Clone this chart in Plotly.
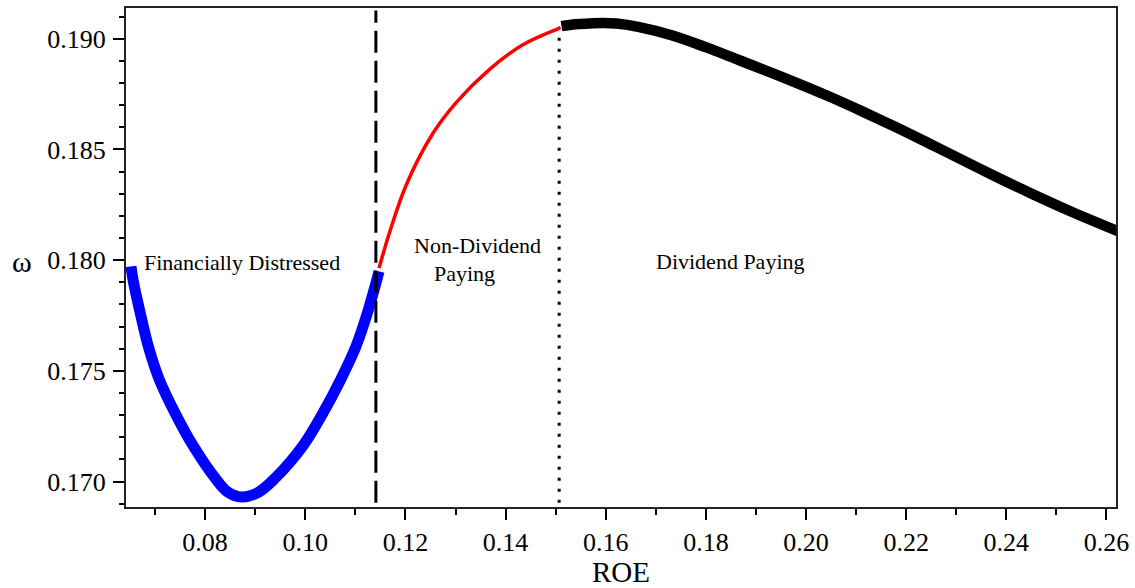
import plotly.graph_objects as go

# ---- data ----
blue_x = [0.06520, 0.06566, 0.06709, 0.06869, 0.07088, 0.07397, 0.07757, 0.08205, 0.08455,
          0.08728, 0.09053, 0.09392, 0.09957, 0.10356, 0.10703, 0.11008, 0.11233, 0.11421, 0.11473]
blue_y = [0.17972, 0.17905, 0.17757, 0.17608, 0.17459, 0.17311, 0.17163, 0.17014, 0.16952,
          0.16930, 0.16950, 0.17014, 0.17163, 0.17311, 0.17459, 0.17608, 0.17756, 0.17905, 0.17949]

red_x = [0.11473, 0.11686, 0.12020, 0.12550, 0.13017, 0.13681, 0.14345, 0.15044, 0.15098]
red_y = [0.17964, 0.18127, 0.18342, 0.18573, 0.18713, 0.18862, 0.18973, 0.19045, 0.19050]

black_x = [0.15117, 0.15397, 0.15676, 0.15935, 0.16214, 0.16673, 0.17332, 0.18010, 0.18668,
           0.19327, 0.20005, 0.20463, 0.21122, 0.21800, 0.22458, 0.23117, 0.23795, 0.24453,
           0.25291, 0.26250]
black_y = [0.19057, 0.19066, 0.19069, 0.19071, 0.19069, 0.19053, 0.19015, 0.18961, 0.18903,
           0.18845, 0.18783, 0.18739, 0.18672, 0.18600, 0.18527, 0.18453, 0.18377, 0.18306,
           0.18220, 0.18129]

distress_boundary = 0.1141
dividend_boundary = 0.1507
dashed_y = [0.16904, 0.19128]
dotted_y = [0.16904, 0.19040]

x_range = [0.0642, 0.2619]
y_range = [0.16885, 0.19139]

region_labels = ["Financially Distressed", "Non-Dividend", "Paying", "Dividend Paying"]
x_title = "ROE"
y_title = "ω"

FONT = "Liberation Serif"

fig = go.Figure()

fig.add_trace(go.Scatter(x=[dividend_boundary, dividend_boundary], y=dotted_y, mode="lines",
                         line=dict(color="black", width=3, dash="3px,8px"),
                         showlegend=False, hoverinfo="skip"))
fig.add_trace(go.Scatter(x=blue_x, y=blue_y, mode="lines",
                         line=dict(color="#0000ff", width=11, shape="spline", smoothing=1),
                         showlegend=False))
fig.add_trace(go.Scatter(x=red_x, y=red_y, mode="lines",
                         line=dict(color="#ff0000", width=3.5, shape="spline", smoothing=1),
                         showlegend=False))
fig.add_trace(go.Scatter(x=black_x, y=black_y, mode="lines",
                         line=dict(color="black", width=10.5, shape="spline", smoothing=1),
                         showlegend=False))
fig.add_trace(go.Scatter(x=[distress_boundary, distress_boundary], y=dashed_y, mode="lines",
                         line=dict(color="black", width=3, dash="22px,8px"),
                         showlegend=False, hoverinfo="skip"))

fig.update_xaxes(range=x_range, dtick=0.02, tick0=0, tickformat=".2f",
                 ticks="outside", ticklen=11, tickwidth=2, tickcolor="black",
                 minor=dict(dtick=0.01, tick0=0, ticks="outside", ticklen=6, tickwidth=2, tickcolor="black"),
                 showline=True, linecolor="#222", linewidth=2, mirror=True,
                 showgrid=False, zeroline=False,
                 tickfont=dict(family=FONT, size=26, color="black"),
                 title=dict(text=x_title, font=dict(family=FONT, size=29, color="black"), standoff=4))
fig.update_yaxes(range=y_range, dtick=0.005, tick0=0, tickformat=".3f",
                 ticks="outside", ticklen=11, tickwidth=2, tickcolor="black",
                 minor=dict(dtick=0.001, tick0=0, ticks="outside", ticklen=5, tickwidth=2, tickcolor="black"),
                 showline=True, linecolor="#222", linewidth=2, mirror=True,
                 showgrid=False, zeroline=False, ticklabelstandoff=2,
                 tickfont=dict(family=FONT, size=26, color="black"))

fig.add_annotation(x=0.0674, y=0.1799, text=region_labels[0], showarrow=False,
                   xanchor="left", yanchor="middle", font=dict(family=FONT, size=22, color="black"))
fig.add_annotation(x=0.13442, y=0.18066, text=region_labels[1], showarrow=False,
                   xanchor="center", yanchor="middle", font=dict(family=FONT, size=22, color="black"))
fig.add_annotation(x=0.13173, y=0.17942, text=region_labels[2], showarrow=False,
                   xanchor="center", yanchor="middle", font=dict(family=FONT, size=22, color="black"))
fig.add_annotation(x=0.18489, y=0.17995, text=region_labels[3], showarrow=False,
                   xanchor="center", yanchor="middle", font=dict(family=FONT, size=22, color="black"))
fig.add_annotation(xref="paper", yref="y", x=-0.105, y=0.17995, text=y_title, showarrow=False,
                   xanchor="center", yanchor="middle", font=dict(family=FONT, size=30, color="black"))

fig.update_layout(width=1135, height=588, margin=dict(l=126, r=18, t=6, b=75),
                  plot_bgcolor="white", paper_bgcolor="white", showlegend=False)

fig.write_html("out.html")
